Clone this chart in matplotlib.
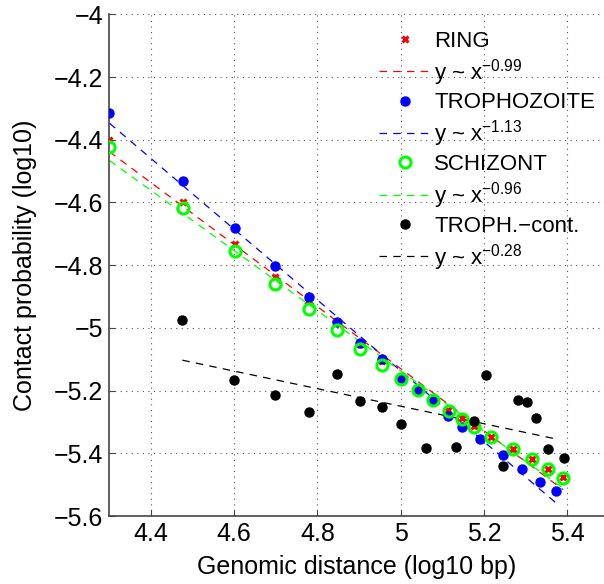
import matplotlib
matplotlib.use('Agg')
import matplotlib.pyplot as plt
import numpy as np

plt.rcParams['font.family'] = ['Liberation Sans', 'DejaVu Sans']
plt.rcParams['mathtext.default'] = 'regular'

# log10 genomic distance / log10 contact probability
ring_x = [4.301, 4.477, 4.602, 4.699, 4.778, 4.845, 4.903, 4.954, 5.0, 5.041,
          5.079, 5.114, 5.146, 5.176, 5.217, 5.270, 5.314, 5.354, 5.390]
ring_y = [-4.400, -4.597, -4.733, -4.838, -4.915, -4.985, -5.050, -5.105, -5.155, -5.198,
          -5.230, -5.262, -5.288, -5.313, -5.347, -5.387, -5.418, -5.450, -5.477]

troph_x = [4.301, 4.477, 4.602, 4.699, 4.780, 4.846, 4.902, 4.954, 5.0, 5.042,
           5.078, 5.114, 5.146, 5.190, 5.245, 5.291, 5.334, 5.373]
troph_y = [-4.313, -4.531, -4.682, -4.802, -4.900, -4.980, -5.049, -5.100, -5.161, -5.198,
           -5.232, -5.280, -5.315, -5.355, -5.406, -5.450, -5.491, -5.521]

schiz_x = [4.301, 4.477, 4.602, 4.699, 4.780, 4.846, 4.902, 4.954, 5.0, 5.042,
           5.078, 5.116, 5.146, 5.177, 5.217, 5.270, 5.314, 5.354, 5.390]
schiz_y = [-4.422, -4.618, -4.755, -4.859, -4.941, -5.008, -5.066, -5.118, -5.162, -5.199,
           -5.231, -5.264, -5.289, -5.315, -5.347, -5.387, -5.419, -5.451, -5.478]

cont_x = [4.476, 4.600, 4.699, 4.780, 4.846, 4.902, 4.954, 5.0, 5.061, 5.132,
          5.177, 5.204, 5.245, 5.281, 5.302, 5.324, 5.353, 5.391]
cont_y = [-4.976, -5.167, -5.214, -5.267, -5.147, -5.232, -5.251, -5.305, -5.383, -5.379,
          -5.297, -5.149, -5.441, -5.230, -5.237, -5.287, -5.387, -5.414]

# power-law fits: slope, value at x0, x range
fit_slopes = [-0.99, -1.13, -0.96, -0.28]
fit_y0 = [-4.438, -4.347, -4.466, -5.103]
fit_x0 = [4.301, 4.301, 4.301, 4.476]
fit_x1 = [5.390, 5.373, 5.390, 5.378]
fit_labels = ['y ~ x$^{-0.99}$', 'y ~ x$^{-1.13}$', 'y ~ x$^{-0.96}$', 'y ~ x$^{-0.28}$']
series_labels = ['RING', 'TROPHOZOITE', 'SCHIZONT', 'TROPH.\u2212cont.']
colors = ['#ff0000', '#0000ff', '#00ff00', '#000000']

fig = plt.figure(figsize=(6.04, 5.84), dpi=100)
ax = fig.add_axes([0.1805, 0.1164, 0.8195, 0.859])

handles = []
h, = ax.plot(ring_x, ring_y, 'x', color=colors[0], ms=5, mew=2.2, zorder=3)
handles.append(h)
h, = ax.plot(troph_x, troph_y, 'o', color=colors[1], mec=colors[1], ms=6.5, zorder=3)
handles.append(h)
h, = ax.plot(schiz_x, schiz_y, 'o', mfc='none', mec=colors[2], ms=8, mew=2.2, zorder=3)
handles.append(h)
h, = ax.plot(cont_x, cont_y, 'o', color=colors[3], ms=6.5, zorder=3)
handles.append(h)

fit_handles = []
for s, y0, x0, x1, c in zip(fit_slopes, fit_y0, fit_x0, fit_x1, colors):
    xx = np.array([x0, x1])
    ln, = ax.plot(xx, y0 + s * (xx - x0), '--', color=c, lw=0.9, dashes=(6, 5), zorder=2)
    fit_handles.append(ln)

leg_h, leg_l = [], []
for i in range(4):
    leg_h += [handles[i], fit_handles[i]]
    leg_l += [series_labels[i], fit_labels[i]]
ax.legend(leg_h, leg_l, loc='upper right', bbox_to_anchor=(1.0, 0.985), frameon=False,
          fontsize=16, handlelength=2.4, handletextpad=0.1, labelspacing=0.22,
          borderaxespad=0.0)

ax.set_xlim(4.3, 5.488)
ax.set_ylim(-5.6, -4)
ax.set_xticks([4.4, 4.6, 4.8, 5.0, 5.2, 5.4])
ax.set_xticklabels(['4.4', '4.6', '4.8', '5', '5.2', '5.4'])
ax.set_yticks([-5.6, -5.4, -5.2, -5, -4.8, -4.6, -4.4, -4.2, -4])
ax.set_yticklabels(['\u22125.6', '\u22125.4', '\u22125.2', '\u22125', '\u22124.8',
                    '\u22124.6', '\u22124.4', '\u22124.2', '\u22124'])
ax.grid(True, linestyle=(0, (1, 4)), color='#555555', lw=0.8)
ax.tick_params(direction='in', labelsize=18, length=4, color='#444444', pad=4)
for side in ['top', 'right']:
    ax.spines[side].set_visible(False)
for side in ['left', 'bottom']:
    ax.spines[side].set_color('#444444')
    ax.spines[side].set_linewidth(1.2)

ax.set_xlabel('Genomic distance (log10 bp)', fontsize=18, labelpad=7)
ax.set_ylabel('Contact probability (log10)', fontsize=18, labelpad=12)

fig.savefig('out.png', dpi=100)
